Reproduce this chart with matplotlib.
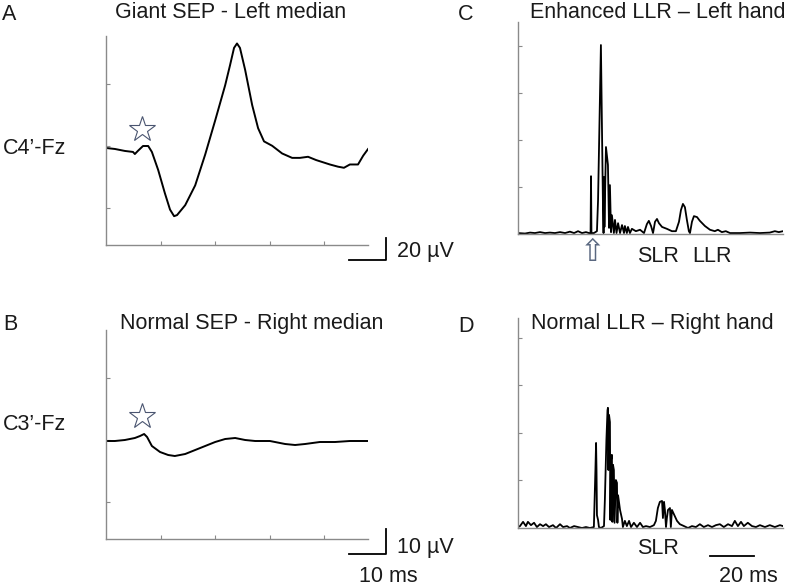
import matplotlib
matplotlib.use("Agg")
import matplotlib.pyplot as plt
import matplotlib.transforms as mtransforms

plt.rcParams['font.family'] = ['Liberation Sans', 'DejaVu Sans']

# --- Panel A: giant SEP, C4'-Fz (ms, uV)
sep_a_ms = [0, 2.4, 5.1, 7.3, 7.8, 8.6, 10.0, 11.4, 12.4, 14.1, 15.9, 17.3, 18.4, 19.2,
            21.4, 24.1, 26.8, 29.5, 32.2, 33.5, 34.6, 35.4, 36.2, 37.6, 39.5, 41.1, 42.7,
            44.9, 47.6, 50.3, 52.4, 54.6, 56.8, 60.5, 62.7, 64.3, 65.9, 68.1, 69.5, 70.8]
sep_a_uv = [0, -0.9, -2.7, -3.6, -5.5, -2.7, 1.8, 1.8, -3.6, -20, -41, -56, -62, -61,
            -52, -34, -6, 25, 57, 75, 91, 95, 91, 71, 39, 18, 6,
            2, -5, -9, -9, -8, -11, -15, -17, -18, -15, -15, -7, -1]

# --- Panel B: normal SEP, C3'-Fz (ms, uV)
sep_b_ms = [0, 2.4, 5.1, 7.8, 9.2, 10.3, 11.1, 12.4, 14.6, 16.8, 18.6, 21.4, 24.1, 26.8,
            29.5, 32.2, 34.9, 37.6, 40.3, 44.3, 48.4, 51.1, 53.8, 57.8, 61.9, 65.9, 70.8]
sep_b_uv = [0, 0, 0.4, 1.2, 2.0, 2.8, 1.6, -2.0, -4.4, -5.6, -6.0, -5.2, -3.6, -2.0,
            -0.4, 0.8, 1.2, 0.4, 0, 0, -1.2, -1.6, -1.2, -0.4, -0.4, 0, 0]

# --- Panel C: enhanced LLR, left hand (ms, rectified EMG, tick units)
llr_c_ms = [0, 3.2, 5.5, 7.7, 10.0, 12.3, 14.5, 16.8, 19.1, 21.4, 23.6, 25.5, 27.3, 29.1,
            30.9, 32.3, 33.0, 33.2, 33.4, 34.5, 35.9, 36.4, 37.7, 38.6, 38.9, 39.1, 39.3,
            40.0, 40.9, 41.4, 41.8, 42.3, 42.7, 43.6, 44.1, 44.8, 45.5, 46.4, 47.3, 48.2,
            48.6, 49.5, 50.0, 50.9, 51.8, 53.6, 55.5, 57.3, 58.6, 59.5, 60.5, 61.4, 62.3,
            63.2, 64.1, 65.5, 67.7, 70.0, 71.8, 73.2, 74.1, 75.0, 75.9, 76.8, 77.7, 78.2,
            79.1, 80.0, 81.4, 82.7, 85.0, 87.3, 89.5, 90.9, 92.7, 94.5, 96.4, 100.9, 105.5,
            110.0, 114.5, 116.8, 118.6, 120.5]
llr_c_amp = [0.02, 0.01, 0.03, 0.02, 0.04, 0.02, 0.03, 0.02, 0.04, 0.02, 0.05, 0.02, 0.06, 0.02,
             0.04, 0.02, 0.02, 1.23, 0.02, 0.02, 0.06, 0.72, 4.02, 0.72, 0.02, 1.21, 0.15,
             1.85, 1.47, 0.13, 1.04, 0.04, 0.40, 0.02, 0.30, 0.02, 0.23, 0.02, 0.19, 0.02,
             0.17, 0.02, 0.15, 0.02, 0.11, 0.06, 0.09, 0.02, 0.21, 0.28, 0.17, 0.02, 0.26,
             0.32, 0.23, 0.15, 0.11, 0.06, 0.06, 0.26, 0.51, 0.64, 0.57, 0.30, 0.06, 0.02,
             0.26, 0.38, 0.36, 0.28, 0.17, 0.09, 0.06, 0.09, 0.04, 0.06, 0.02, 0.02, 0.03,
             0.02, 0.03, 0.06, 0.04, 0.06]

# --- Panel D: normal LLR, right hand
llr_d_ms = [0, 0.9, 2.3, 3.6, 4.5, 5.9, 7.3, 8.6, 10.0, 11.4, 12.7, 14.1, 15.9, 17.3,
            19.1, 20.5, 22.3, 23.6, 25.5, 27.3, 29.1, 30.9, 32.7, 34.5, 35.2, 35.5, 35.7,
            35.9, 36.4, 36.8, 37.7, 39.1, 39.5, 40.2, 40.7, 40.9, 41.1, 41.4, 41.8, 42.0,
            42.3, 42.7, 42.9, 43.2, 43.6, 43.9, 44.5, 45.0, 45.2, 45.5, 46.4, 47.3, 47.7,
            48.6, 49.5, 50.5, 51.4, 52.7, 54.1, 55.5, 56.8, 58.2, 60.0, 61.8, 62.7, 63.6,
            64.5, 65.5, 65.9, 66.4, 66.8, 67.3, 67.7, 68.2, 69.1, 69.5, 70.0, 70.9, 72.3,
            73.6, 75.5, 77.3, 79.1, 80.9, 82.7, 84.5, 86.4, 88.2, 90.0, 91.8, 93.6, 95.5,
            97.3, 98.6, 100.0, 101.4, 102.7, 104.5, 106.4, 108.2, 110.0, 112.3, 114.5,
            116.8, 119.1, 120.5]
llr_d_amp = [0.02, 0.04, 0.13, 0.04, 0.13, 0.06, 0.11, 0.02, 0.08, 0.04, 0.08, 0.02, 0.06, 0.0,
             0.08, 0.02, 0.04, 0.0, 0.04, 0.02, 0.0, 0.02, 0.0, 0.02, 1.22, 1.79, 1.22,
             0.27, 0.17, 0.02, 0.0, 0.04, 0.59, 1.85, 2.48, 2.53, 1.22, 2.38, 2.23, 0.17,
             1.43, 1.54, 0.13, 1.33, 1.22, 0.11, 1.01, 0.95, 0.11, 0.69, 0.38, 0.19, 0.02,
             0.15, 0.04, 0.15, 0.02, 0.11, 0.02, 0.11, 0.02, 0.04, 0.02, 0.06, 0.15, 0.42,
             0.55, 0.57, 0.21, 0.55, 0.38, 0.02, 0.21, 0.38, 0.42, 0.02, 0.38, 0.29, 0.15,
             0.08, 0.04, 0.0, 0.04, 0.02, 0.08, 0.02, 0.06, 0.02, 0.06, 0.08, 0.02, 0.08,
             0.04, 0.15, 0.04, 0.13, 0.04, 0.11, 0.04, 0.02, 0.06, 0.02, 0.06,
             0.02, 0.06, 0.04]

W, H = 789, 587
GREY = '#8a8a8a'
TXT = '#1a1a1a'
FS = 15.5


def px_axes(fig, left, top, right, bottom):
    return fig.add_axes([left / W, 1 - bottom / H, (right - left) / W, (bottom - top) / H])


def style(ax):
    for s in ['top', 'right']:
        ax.spines[s].set_visible(False)
    for s in ['left', 'bottom']:
        ax.spines[s].set_color(GREY)
        ax.spines[s].set_linewidth(1.0)
    ax.tick_params(direction='in', length=3, color=GREY, labelleft=False, labelbottom=False)
    ax.patch.set_alpha(0)


def ftext(fig, x, y, s, **kw):
    kw.setdefault('fontsize', FS)
    kw.setdefault('color', TXT)
    kw.setdefault('va', 'center')
    fig.text(x / W, 1 - y / H, s, **kw)


fig = plt.figure(figsize=(W / 100, H / 100), dpi=100)

# Panel A
axA = px_axes(fig, 106, 36, 368, 245)
style(axA)
axA.plot(sep_a_ms, sep_a_uv, color='black', lw=1.4)
axA.set_xlim(0, 70.8)
axA.set_ylim(-88.2, 101.8)
axA.set_xticks([14.75, 29.5, 44.25, 59.0])
axA.set_yticks([-54.5, 1.8, 58.2])
axA.plot([9.7], [17.3], marker='*', ms=19, mfc='white', mec='#4a5570', mew=0.8, clip_on=False)
axA.plot([65.7, 75.7, 75.7], [-101.8, -101.8, -81.8], color='black', lw=1.3, clip_on=False)

# Panel B
axB = px_axes(fig, 106, 330, 368, 539)
style(axB)
axB.plot(sep_b_ms, sep_b_uv, color='black', lw=1.4)
axB.set_xlim(0, 70.8)
axB.set_ylim(-39.2, 44.4)
axB.set_xticks([14.75, 29.5, 44.25, 59.0])
axB.set_yticks([-24.4, 0.4, 25.2])
axB.plot([9.7], [10.0], marker='*', ms=19, mfc='white', mec='#4a5570', mew=0.8, clip_on=False)
axB.plot([65.7, 75.7, 75.7], [-45.2, -45.2, -35.2], color='black', lw=1.3, clip_on=False)

# Panel C
axC = px_axes(fig, 518, 22, 783, 234)
style(axC)
axC.plot(llr_c_ms, llr_c_amp, color='black', lw=1.3)
axC.set_xlim(0, 120.5)
axC.set_ylim(0, 4.51)
axC.set_xticks([])
axC.set_yticks([1, 2, 3, 4])
trC = mtransforms.blended_transform_factory(axC.transData, axC.transAxes)
axC.text(34.1, -0.02, '\u21e7', transform=trC, ha='center', va='top', fontsize=22,
         color='#5a6880', family='DejaVu Sans')

# Panel D
axD = px_axes(fig, 518, 318, 783, 528)
style(axD)
axD.plot(llr_d_ms, llr_d_amp, color='black', lw=1.3)
axD.set_xlim(0, 120.5)
axD.set_ylim(0, 4.42)
axD.set_xticks([])
axD.set_yticks([1, 2, 3, 4])
axD.plot([87.3, 107.3], [-0.59, -0.59], color='black', lw=1.3, clip_on=False)

# texts
ftext(fig, 9, 14, 'A', ha='center')
ftext(fig, 231, 13, 'Giant SEP - Left median', ha='center')
ftext(fig, 3, 148, 'C4\u2019-Fz', ha='left')
ftext(fig, 10, 325, 'B', ha='center')
ftext(fig, 252, 324, 'Normal SEP - Right median', ha='center')
ftext(fig, 3, 424, 'C3\u2019-Fz', ha='left')
ftext(fig, 466, 14, 'C', ha='center')
ftext(fig, 658, 13, 'Enhanced LLR \u2013 Left hand', ha='center')
ftext(fig, 466, 327, 'D', ha='center')
ftext(fig, 652, 324, 'Normal LLR \u2013 Right hand', ha='center')
ftext(fig, 397, 252, '20 \u00b5V', ha='left')
ftext(fig, 397, 547, '10 \u00b5V', ha='left')
ftext(fig, 388, 576, '10 ms', ha='center')
ftext(fig, 658, 256, 'SLR', ha='center')
ftext(fig, 712, 256, 'LLR', ha='center')
ftext(fig, 658, 549, 'SLR', ha='center')
ftext(fig, 748, 576, '20 ms', ha='center')

fig.savefig('out.png', dpi=100)
